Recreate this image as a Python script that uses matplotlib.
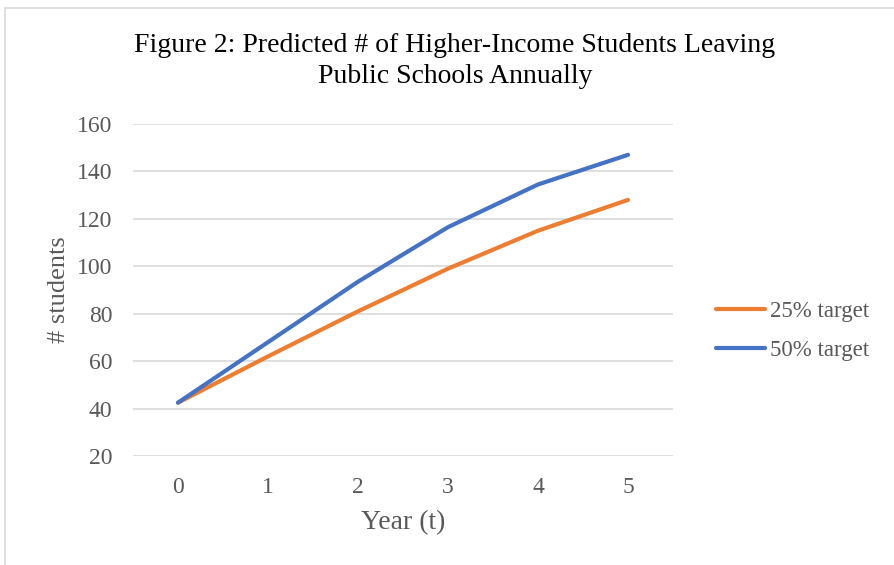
import matplotlib.pyplot as plt
from matplotlib.patches import Rectangle

# data
years = [0, 1, 2, 3, 4, 5]
target25 = [42.5, 62, 81, 99, 115, 128]
target50 = [42.5, 68, 93.5, 116.5, 134.5, 147]
yticks = [20, 40, 60, 80, 100, 120, 140, 160]

plt.rcParams['font.family'] = ['Liberation Serif', 'DejaVu Serif']
txt = '#595959'

fig = plt.figure(figsize=(8.95, 5.65), dpi=100)
# light frame round the chart, like the Excel chart area
fig.patches.append(Rectangle((5 / 895, -0.01), 1.0, 1 - 8 / 565 + 0.01,
                             transform=fig.transFigure, fill=False,
                             edgecolor='#d9d9d9', linewidth=1.2))

ax = fig.add_axes([133 / 895, 1 - 456 / 565, 540 / 895, 332 / 565])
ax.plot(years, target25, color='#ED7D31', linewidth=3, solid_capstyle='round', label='25% target')
ax.plot(years, target50, color='#4472C4', linewidth=3, solid_capstyle='round', label='50% target')

ax.set_xlim(-0.5, 5.5)
ax.set_ylim(20, 160)
ax.set_xticks(years)
ax.set_yticks(yticks)
ax.grid(axis='y', color='#d9d9d9', linewidth=1.2)
ax.set_axisbelow(True)
for s in ax.spines.values():
    s.set_visible(False)
ax.tick_params(length=0, labelsize=17, labelcolor=txt)
ax.tick_params(axis='y', pad=15)
ax.tick_params(axis='x', pad=15)

ax.set_xlabel('Year (t)', fontsize=20, color=txt, labelpad=9)
ax.set_ylabel('# students', fontsize=19, color=txt, labelpad=5)

fig.text(455 / 895, 1 - 61 / 565,
         'Figure 2: Predicted # of Higher-Income Students Leaving\nPublic Schools Annually',
         ha='center', va='center', fontsize=20, color='black', linespacing=1.28)

fig.legend(loc='center left', bbox_to_anchor=(705 / 895, 1 - 331 / 565),
           frameon=False, fontsize=16.5, handlelength=2.1, handletextpad=0.25,
           labelspacing=0.8, borderpad=0, labelcolor=txt)

fig.savefig('out.png', dpi=100)
